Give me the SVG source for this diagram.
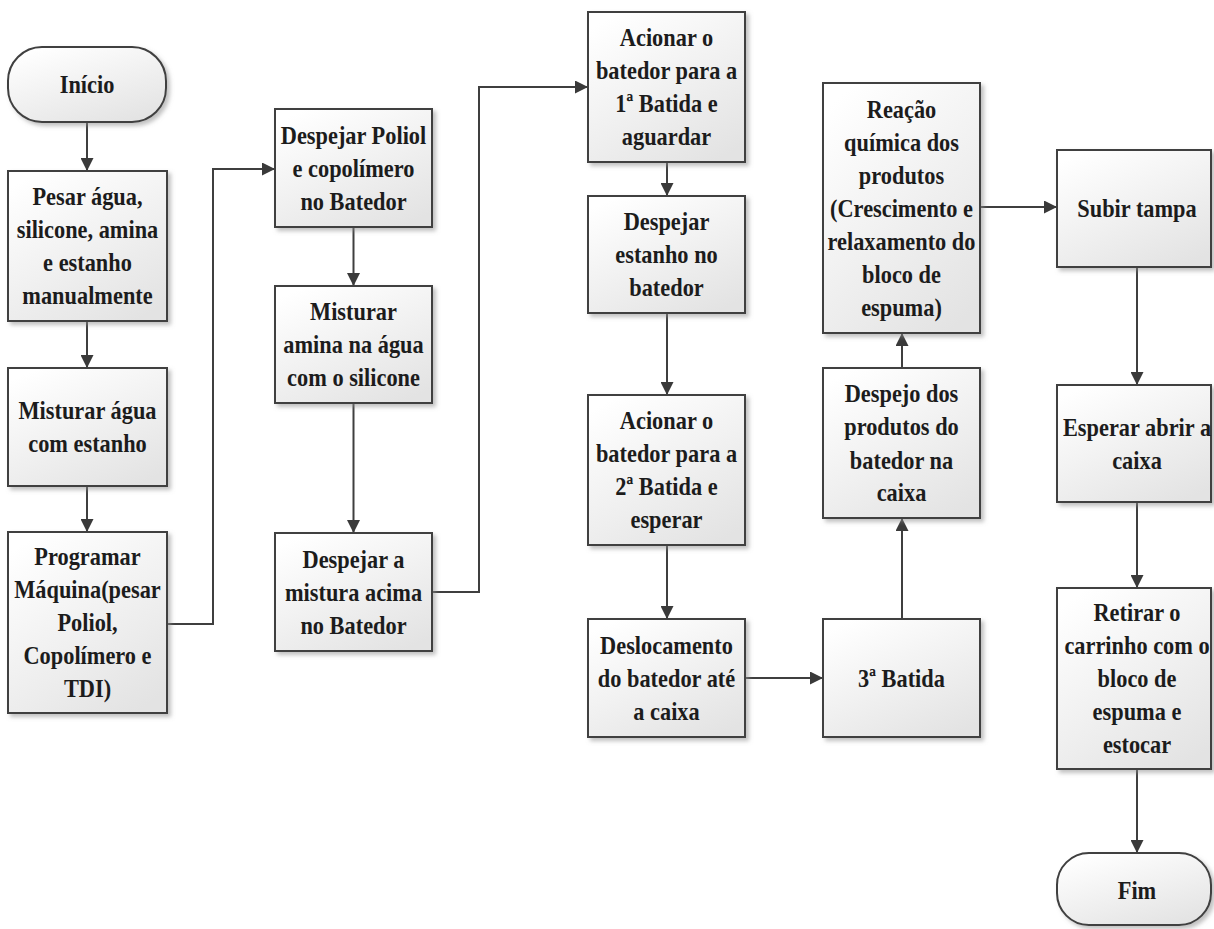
<svg xmlns="http://www.w3.org/2000/svg" width="1214" height="929" viewBox="0 0 1214 929">
<defs>
<linearGradient id="g" x1="0.2" y1="0" x2="0.8" y2="1">
<stop offset="0" stop-color="#ffffff"/>
<stop offset="1" stop-color="#e3e3e3"/>
</linearGradient>
<filter id="sh" x="-10%" y="-10%" width="125%" height="125%">
<feDropShadow dx="3" dy="3" stdDeviation="2" flood-color="#8c8c8c" flood-opacity="0.55"/>
</filter>
<marker id="ah" viewBox="0 0 10 10" refX="10" refY="5" markerWidth="14" markerHeight="13" markerUnits="userSpaceOnUse" orient="auto">
<path d="M0,0 L10,5 L0,10 z" fill="#3a3a3a"/>
</marker>
<style>
.b{fill:url(#g);stroke:#3f3f3f;stroke-width:2;filter:url(#sh)}
.t{font-family:"Liberation Serif","Times New Roman",serif;font-weight:bold;font-size:26px;fill:#1c1c1c;text-anchor:middle}
.c{fill:none;stroke:#3f3f3f;stroke-width:2;marker-end:url(#ah)}
</style>
</defs>
<rect width="1214" height="929" fill="#ffffff"/>

<g id="connectors">
<path class="c" d="M87,122 V171"/>
<path class="c" d="M87,321 V368"/>
<path class="c" d="M87,486 V532"/>
<path class="c" d="M167,624 H213 V169 H275"/>
<path class="c" d="M353.5,227 V286"/>
<path class="c" d="M353.5,403 V533"/>
<path class="c" d="M432,592 H479 V87 H588"/>
<path class="c" d="M667,162 V196"/>
<path class="c" d="M667,313 V395"/>
<path class="c" d="M667,545 V619"/>
<path class="c" d="M744,678 H823"/>
<path class="c" d="M902,619 V518"/>
<path class="c" d="M902,368 V333"/>
<path class="c" d="M980,207 H1057"/>
<path class="c" d="M1137,267 V385"/>
<path class="c" d="M1137,502 V588"/>
<path class="c" d="M1137,769 V853"/>
</g>

<g id="inicio">
<rect class="b" x="8" y="47" width="158" height="75" rx="34" ry="34"/>
<text class="t" transform="translate(87,0) scale(0.86,1)"><tspan x="0" y="93.5">Início</tspan></text>
</g>
<g id="pesar">
<rect class="b" x="8" y="171" width="159" height="150"/>
<text class="t" transform="translate(87.5,0) scale(0.86,1)"><tspan x="0" y="205.5">Pesar água,</tspan><tspan x="0" y="238.5">silicone, amina</tspan><tspan x="0" y="271.5">e estanho</tspan><tspan x="0" y="304.5">manualmente</tspan></text>
</g>
<g id="misturar-agua">
<rect class="b" x="8" y="368" width="159" height="118"/>
<text class="t" transform="translate(87.5,0) scale(0.86,1)"><tspan x="0" y="419.5">Misturar água</tspan><tspan x="0" y="452.5">com estanho</tspan></text>
</g>
<g id="programar">
<rect class="b" x="8" y="532" width="159" height="181"/>
<text class="t" transform="translate(87.5,0) scale(0.86,1)"><tspan x="0" y="565.5">Programar</tspan><tspan x="0" y="598.5">Máquina(pesar</tspan><tspan x="0" y="631.5">Poliol,</tspan><tspan x="0" y="664.5">Copolímero e</tspan><tspan x="0" y="697.5">TDI)</tspan></text>
</g>

<g id="despejar-poliol">
<rect class="b" x="275" y="109" width="157" height="118"/>
<text class="t" transform="translate(353.5,0) scale(0.86,1)"><tspan x="0" y="144">Despejar Poliol</tspan><tspan x="0" y="177">e copolímero</tspan><tspan x="0" y="210">no Batedor</tspan></text>
</g>
<g id="misturar-amina">
<rect class="b" x="275" y="286" width="157" height="117"/>
<text class="t" transform="translate(353.5,0) scale(0.86,1)"><tspan x="0" y="320.5">Misturar</tspan><tspan x="0" y="353.5">amina na água</tspan><tspan x="0" y="386.5">com o silicone</tspan></text>
</g>
<g id="despejar-mistura">
<rect class="b" x="275" y="533" width="157" height="118"/>
<text class="t" transform="translate(353.5,0) scale(0.86,1)"><tspan x="0" y="568">Despejar a</tspan><tspan x="0" y="601">mistura acima</tspan><tspan x="0" y="634">no Batedor</tspan></text>
</g>

<g id="batida1">
<rect class="b" x="588" y="12" width="157" height="150"/>
<text class="t" transform="translate(666.5,0) scale(0.86,1)"><tspan x="0" y="46.5">Acionar o</tspan><tspan x="0" y="79.5">batedor para a</tspan><tspan x="0" y="112.5">1ª Batida e</tspan><tspan x="0" y="145.5">aguardar</tspan></text>
</g>
<g id="despejar-estanho">
<rect class="b" x="588" y="196" width="157" height="117"/>
<text class="t" transform="translate(666.5,0) scale(0.86,1)"><tspan x="0" y="230.5">Despejar</tspan><tspan x="0" y="263.5">estanho no</tspan><tspan x="0" y="296.5">batedor</tspan></text>
</g>
<g id="batida2">
<rect class="b" x="588" y="395" width="157" height="150"/>
<text class="t" transform="translate(666.5,0) scale(0.86,1)"><tspan x="0" y="429.5">Acionar o</tspan><tspan x="0" y="462.5">batedor para a</tspan><tspan x="0" y="495.5">2ª Batida e</tspan><tspan x="0" y="528.5">esperar</tspan></text>
</g>
<g id="deslocamento">
<rect class="b" x="588" y="619" width="157" height="118"/>
<text class="t" transform="translate(666.5,0) scale(0.86,1)"><tspan x="0" y="654">Deslocamento</tspan><tspan x="0" y="687">do batedor até</tspan><tspan x="0" y="720">a caixa</tspan></text>
</g>

<g id="batida3">
<rect class="b" x="823" y="619" width="157" height="118"/>
<text class="t" transform="translate(901.5,0) scale(0.86,1)"><tspan x="0" y="687">3ª Batida</tspan></text>
</g>
<g id="despejo">
<rect class="b" x="823" y="368" width="157" height="150"/>
<text class="t" transform="translate(901.5,0) scale(0.86,1)"><tspan x="0" y="402.5">Despejo dos</tspan><tspan x="0" y="435.5">produtos do</tspan><tspan x="0" y="468.5">batedor na</tspan><tspan x="0" y="501.5">caixa</tspan></text>
</g>
<g id="reacao">
<rect class="b" x="823" y="83" width="157" height="250"/>
<text class="t" transform="translate(901.5,0) scale(0.86,1)"><tspan x="0" y="118">Reação</tspan><tspan x="0" y="151">química dos</tspan><tspan x="0" y="184">produtos</tspan><tspan x="0" y="217">(Crescimento e</tspan><tspan x="0" y="250">relaxamento do</tspan><tspan x="0" y="283">bloco de</tspan><tspan x="0" y="316">espuma)</tspan></text>
</g>

<g id="subir">
<rect class="b" x="1057" y="150" width="154" height="117"/>
<text class="t" transform="translate(1137,0) scale(0.86,1)"><tspan x="0" y="217.5">Subir tampa</tspan></text>
</g>
<g id="esperar">
<rect class="b" x="1057" y="385" width="154" height="117"/>
<text class="t" transform="translate(1137,0) scale(0.86,1)"><tspan x="0" y="436">Esperar abrir a</tspan><tspan x="0" y="469">caixa</tspan></text>
</g>
<g id="retirar">
<rect class="b" x="1057" y="588" width="154" height="181"/>
<text class="t" transform="translate(1137,0) scale(0.86,1)"><tspan x="0" y="621.5">Retirar o</tspan><tspan x="0" y="654.5">carrinho com o</tspan><tspan x="0" y="687.5">bloco de</tspan><tspan x="0" y="720.5">espuma e</tspan><tspan x="0" y="753.5">estocar</tspan></text>
</g>
<g id="fim">
<rect class="b" x="1057" y="853" width="154" height="72" rx="32" ry="32"/>
<text class="t" transform="translate(1137,0) scale(0.86,1)"><tspan x="0" y="899">Fim</tspan></text>
</g>
</svg>
